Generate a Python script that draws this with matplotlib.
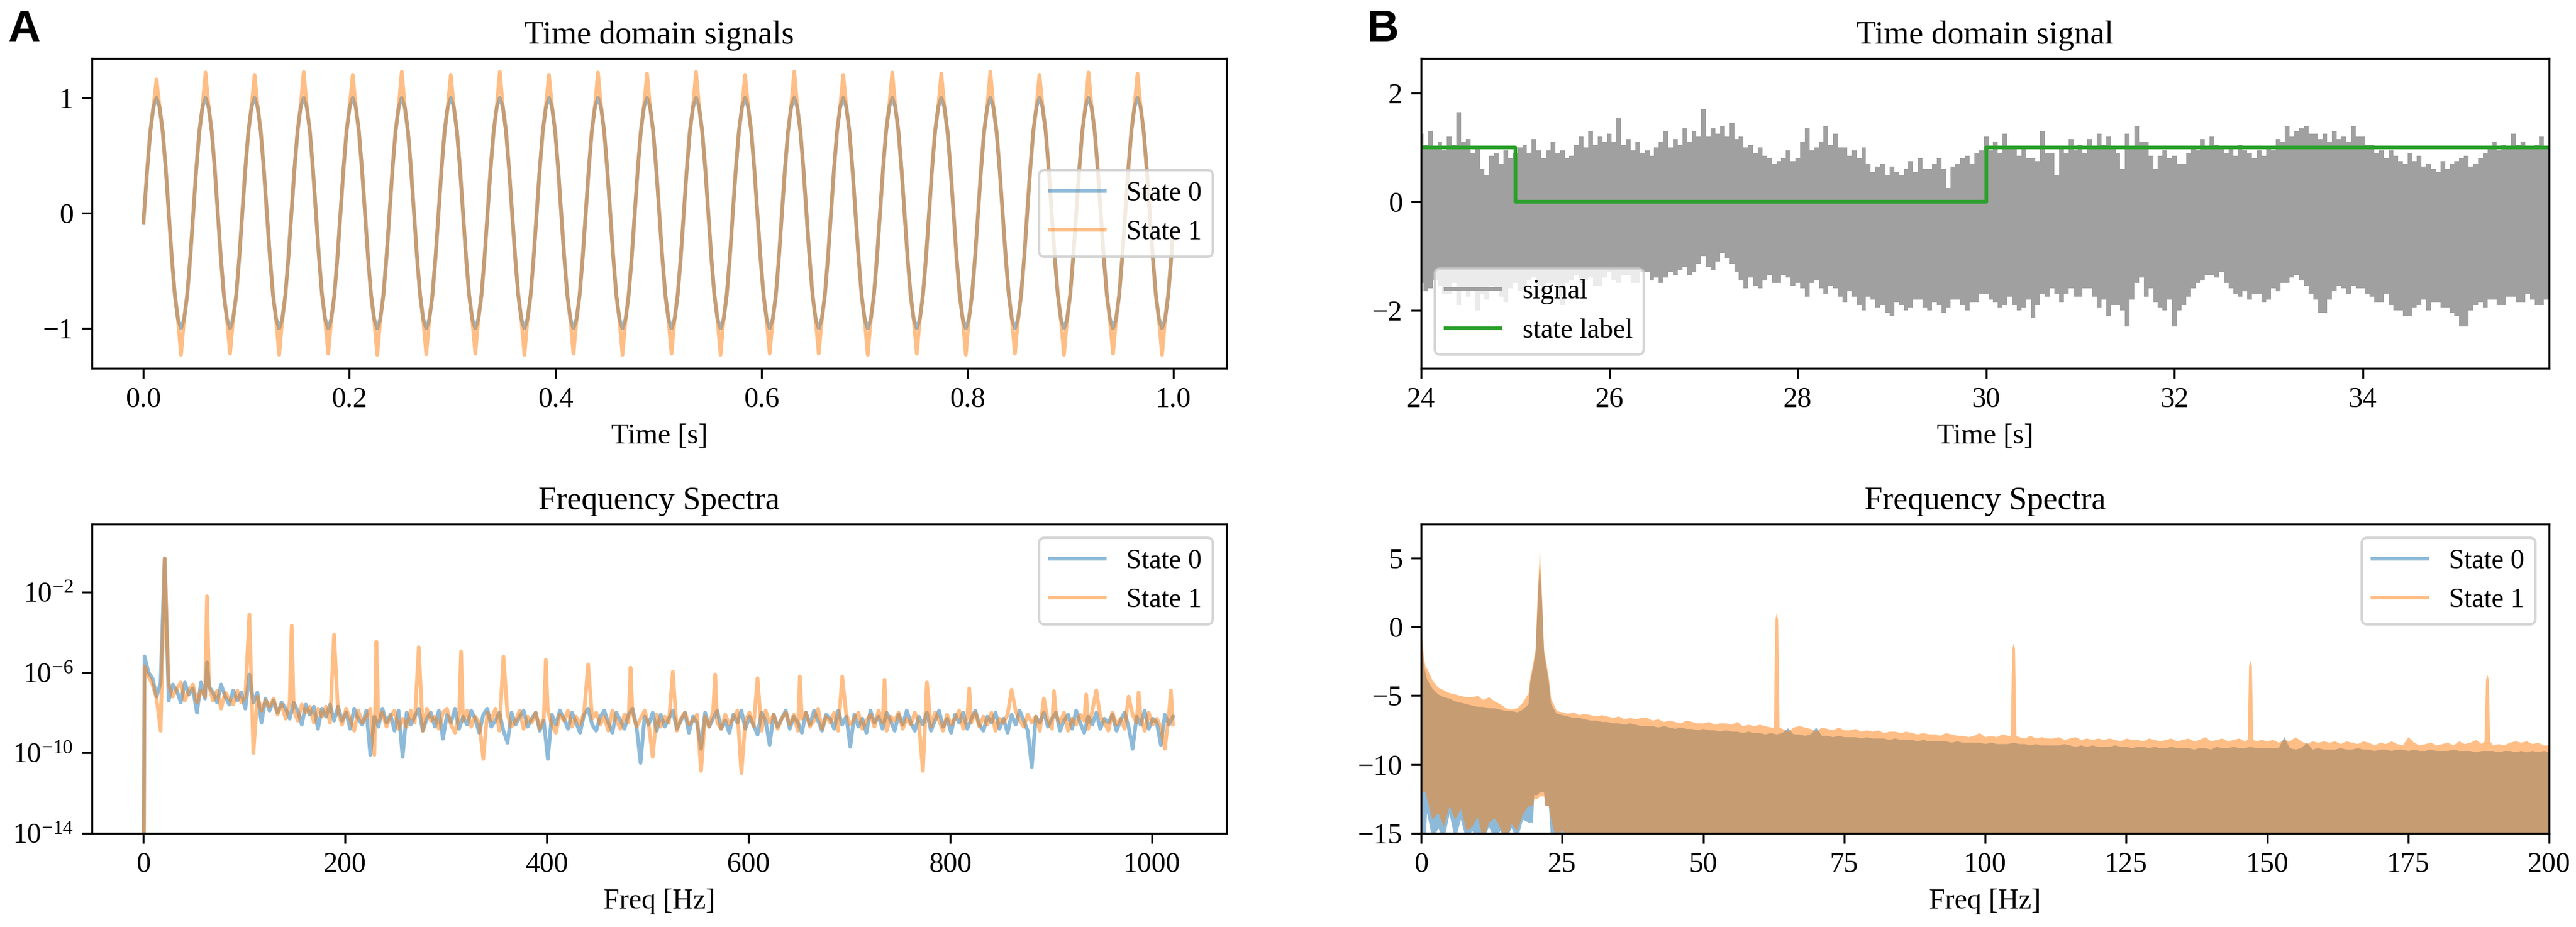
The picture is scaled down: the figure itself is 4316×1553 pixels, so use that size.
import numpy as np
import matplotlib
matplotlib.use("Agg")
import matplotlib.pyplot as plt
from matplotlib.lines import Line2D
from matplotlib.ticker import FixedLocator, NullLocator, LogFormatterMathtext

plt.rcParams['font.family'] = ['Liberation Serif', 'DejaVu Serif']
plt.rcParams['mathtext.fontset'] = 'stix'

# ---------------- DATA ----------------
# Panel A (top): time-domain signals, extremum times [s] and values
a_t_start, a_v_start = 0.0, -0.08
a_t_end, a_v_end = 0.9995, -0.15
a_ext_t = [0.0127, 0.0365, 0.0603, 0.0841, 0.1079, 0.1318, 0.1556, 0.1794, 0.2032, 0.2270,
           0.2508, 0.2746, 0.2984, 0.3222, 0.3460, 0.3699, 0.3937, 0.4175, 0.4413, 0.4651,
           0.4889, 0.5127, 0.5365, 0.5603, 0.5841, 0.6080, 0.6318, 0.6556, 0.6794, 0.7032,
           0.7270, 0.7508, 0.7746, 0.7984, 0.8222, 0.8461, 0.8699, 0.8937, 0.9175, 0.9413,
           0.9651, 0.9889]
a_s0_ext = [1, -1, 1, -1, 1, -1, 1, -1, 1, -1, 1, -1, 1, -1, 1, -1, 1, -1, 1, -1, 1,
            -1, 1, -1, 1, -1, 1, -1, 1, -1, 1, -1, 1, -1, 1, -1, 1, -1, 1, -1, 1, -1]
a_s1_ext = [1.16, -1.23, 1.22, -1.22, 1.20, -1.23, 1.225, -1.22, 1.20, -1.23,
            1.227, -1.225, 1.20, -1.22, 1.227, -1.23, 1.20, -1.22, 1.22, -1.23,
            1.21, -1.22, 1.225, -1.23, 1.20, -1.22, 1.227, -1.22, 1.20, -1.23,
            1.22, -1.22, 1.21, -1.23, 1.225, -1.22, 1.20, -1.23, 1.22, -1.22,
            1.21, -1.23]
# wave profile around each extremum: time offset [s] -> |value|
a_shape_dt = [0.003, 0.006, 0.009]
a_shape_v = [0.92, 0.71, 0.38]

# Panel A (bottom): log10 spectra on a 4 Hz grid (1, 5, 9, ... 1021 Hz) plus DC bin
a_dc_log = -20.0
a_s0_log = [
    -5.2, -6.0, -6.3, -7.2, -6.5, -6.9, -7.4, -6.6, -6.9, -7.5, -6.5, -7.1, -6.8, -8.0, -6.5, -7.3,
    -6.7, -7.0, -7.5, -6.6, -7.2, -7.6, -6.9, -7.4, -7.0, -7.8, -7.2, -7.5, -7.0, -8.5, -7.3, -7.9,
    -7.4, -8.0, -7.5, -7.8, -8.3, -7.5, -7.9, -8.6, -7.6, -8.1, -7.7, -8.8, -7.8, -8.2, -7.6, -8.4,
    -7.7, -8.4, -8.0, -8.8, -7.8, -8.3, -8.6, -7.9, -10.1, -8.2, -8.7, -7.8, -8.5, -8.1, -8.9, -7.9,
    -10.2, -8.0, -8.6, -8.2, -7.8, -8.9, -8.3, -8.0, -8.7, -7.9, -9.3, -8.1, -8.5, -7.8, -8.8, -8.2,
    -8.6, -7.9, -8.3, -9.0, -8.1, -7.8, -8.7, -8.4, -8.0, -8.9, -9.5, -8.0, -8.6, -8.2, -7.9, -8.7,
    -8.3, -8.0, -8.9, -8.4, -10.3, -8.1, -8.6, -7.9, -8.3, -8.8, -8.0, -8.5, -9.0, -8.1, -7.8, -8.6,
    -8.9, -8.2, -7.9, -8.5, -9.0, -8.0, -8.4, -8.8, -8.1, -7.8, -8.7, -10.5, -8.2, -8.6, -8.0, -8.9,
    -8.1, -8.7, -8.3, -7.9, -8.8, -8.4, -8.0, -9.0, -8.2, -8.5, -9.8, -8.0, -8.7, -8.3, -7.9, -8.8,
    -8.4, -9.0, -8.1, -8.5, -7.9, -8.8, -8.2, -8.6, -9.1, -8.0, -8.4, -9.6, -8.1, -8.7, -8.3, -7.9,
    -8.8, -8.2, -8.5, -9.0, -8.0, -8.6, -7.9, -8.4, -8.9, -8.1, -8.3, -8.8, -7.9, -8.6, -8.2, -9.7,
    -8.1, -8.7, -8.3, -9.0, -7.9, -8.5, -8.2, -8.8, -8.0, -8.4, -8.9, -8.1, -8.6, -7.9, -8.5, -8.9,
    -8.2, -8.6, -8.0, -8.9, -8.4, -7.9, -8.7, -8.3, -9.0, -8.1, -8.5, -8.0, -8.8, -8.3, -7.9, -8.6,
    -8.9, -8.2, -8.5, -8.0, -8.8, -8.3, -9.0, -8.1, -8.6, -7.9, -8.4, -8.9, -10.7, -8.2, -8.5, -8.0,
    -8.7, -8.3, -8.0, -8.9, -8.4, -8.1, -8.8, -7.9, -8.5, -9.0, -8.2, -8.6, -8.0, -8.8, -8.3, -8.5,
    -8.1, -8.9, -8.4, -8.0, -8.7, -9.8, -8.2, -8.6, -7.9, -8.8, -8.3, -8.5, -9.6, -8.1, -8.6, -8.2]
a_s1_log = [
    -5.7, -6.2, -6.6, -7.3, -8.9, -6.6, -6.6, -7.2, -6.8, -6.5, -7.4, -6.9, -6.6, -7.5, -6.9, -7.2,
    -6.7, -7.4, -6.9, -7.8, -7.0, -7.3, -7.6, -6.9, -7.5, -7.2, -7.0, -10.0, -7.2, -7.9, -7.4, -7.7,
    -7.3, -8.1, -7.6, -8.3, -7.5, -7.9, -8.4, -7.6, -8.0, -7.7, -8.5, -7.8, -8.2, -7.7, -8.5, -8.0,
    -8.0, -8.6, -7.8, -8.3, -8.9, -7.9, -8.5, -8.2, -7.8, -10.1, -8.4, -8.0, -8.7, -8.2, -7.9, -8.8,
    -8.3, -8.7, -7.9, -8.5, -8.1, -8.9, -7.8, -8.4, -8.2, -8.8, -8.0, -7.8, -8.6, -9.0, -8.1, -8.4,
    -7.9, -8.7, -8.2, -8.5, -10.3, -8.0, -8.4, -7.8, -8.9, -8.3, -8.1, -8.7, -8.4, -7.9, -8.8, -8.2,
    -8.5, -8.0, -8.8, -8.3, -7.9, -8.6, -9.0, -8.1, -8.4, -7.9, -8.7, -8.2, -8.6, -8.0, -9.0, -8.3,
    -8.0, -8.6, -8.2, -8.9, -7.9, -8.4, -8.8, -8.1, -8.5, -8.0, -8.7, -8.3, -7.9, -8.6, -10.2, -8.1,
    -8.7, -8.2, -8.5, -7.9, -8.9, -8.3, -8.0, -8.6, -8.4, -8.1, -10.9, -8.2, -8.7, -7.9, -8.5, -8.8,
    -8.1, -8.6, -8.3, -7.9, -11.0, -8.4, -8.0, -8.7, -8.2, -8.9, -7.9, -8.5, -8.1, -8.8, -8.3, -8.0,
    -8.6, -8.1, -8.9, -8.3, -8.0, -8.7, -8.4, -7.8, -8.8, -8.2, -8.5, -8.0, -8.9, -8.3, -8.1, -8.6,
    -8.3, -8.0, -8.8, -8.4, -8.1, -8.7, -7.9, -8.5, -8.9, -8.2, -8.4, -8.0, -8.8, -8.3, -8.6, -8.0,
    -8.5, -10.9, -8.2, -8.7, -8.0, -8.4, -8.9, -8.1, -8.6, -8.3, -7.9, -8.8, -8.2, -8.5, -8.0, -8.7,
    -8.2, -8.6, -8.0, -8.9, -8.3, -8.5, -8.1, -8.8, -7.9, -8.4, -8.7, -8.1, -8.5, -8.2, -8.9, -8.0,
    -8.4, -8.8, -8.1, -8.5, -8.0, -8.9, -8.3, -8.6, -8.1, -8.4, -8.8, -7.9, -8.6, -8.2, -8.5, -8.9,
    -8.0, -8.6, -8.3, -8.8, -10.0, -8.1, -8.5, -8.2, -8.9, -8.0, -8.6, -8.3, -8.7, -9.8, -8.1, -8.6]
# peaks (Hz, log10)
a_s0_peak_f = [21, 63, 105]
a_s0_peak_v = [-0.33, -5.5, -6.1]
a_s1_peak_f = [21, 63, 105, 147, 189, 231, 273, 315, 357, 399, 441, 483, 525, 567, 609,
               651, 693, 735, 777, 819, 861, 893, 903, 935, 945, 977, 987, 1019]
a_s1_peak_v = [-0.33, -2.21, -3.11, -3.67, -4.11, -4.47, -4.74, -4.96, -5.21, -5.37, -5.6,
               -5.76, -5.96, -6.1, -6.29, -6.2, -6.21, -6.36, -6.5, -6.79, -6.86, -7.3,
               -6.93, -7.1, -6.89, -7.2, -7.0, -6.9]

# Panel B (top): signal envelope every 0.05 s from 24.0 to 36.0 s, and state label
b_sig_t0, b_sig_dt = 24.0, 0.05
b_sig_upper = [
    1.25, 1.05, 1.3, 1.0, 1.1, 0.95, 1.2, 1.05, 1.65, 1.1,
    1.15, 0.9, 1.0, 0.6, 0.5, 0.85, 0.9, 0.7, 0.95, 0.8,
    0.9, 1.0, 1.05, 0.9, 1.15, 0.95, 0.8, 0.95, 1.1, 0.9,
    0.95, 0.8, 0.85, 1.05, 1.2, 1.0, 1.3, 1.05, 1.2, 1.1,
    1.25, 1.1, 1.55, 1.05, 1.15, 0.95, 1.1, 0.9, 0.95, 0.85,
    1.0, 1.1, 1.3, 1.0, 1.15, 1.05, 1.35, 1.1, 1.3, 1.2,
    1.7, 1.2, 1.35, 1.25, 1.4, 1.2, 1.45, 1.15, 1.2, 1.0,
    1.05, 0.9, 1.0, 0.85, 0.8, 0.7, 0.75, 0.8, 0.95, 0.75,
    0.8, 1.1, 1.35, 0.95, 1.0, 1.1, 1.4, 1.05, 1.25, 1.0,
    1.0, 0.85, 0.95, 0.8, 1.0, 0.7, 0.55, 0.65, 0.7, 0.5,
    0.65, 0.55, 0.5, 0.6, 0.75, 0.55, 0.8, 0.6, 0.6, 0.7,
    0.8, 0.6, 0.25, 0.65, 0.7, 0.8, 0.85, 0.7, 0.9, 0.95,
    1.2, 0.95, 1.1, 0.9, 1.25, 1.0, 1.0, 0.85, 1.0, 0.8,
    0.8, 0.75, 1.3, 0.9, 0.9, 0.5, 1.0, 0.9, 1.15, 0.95,
    1.05, 0.9, 1.15, 1.0, 1.25, 1.05, 1.2, 1.0, 0.9, 0.6,
    1.25, 1.0, 1.4, 1.1, 1.1, 0.85, 0.6, 0.85, 0.95, 0.8,
    0.85, 0.7, 0.7, 0.9, 1.0, 0.95, 1.15, 1.0, 1.2, 1.05,
    1.0, 0.9, 1.0, 0.85, 1.05, 0.95, 0.9, 0.8, 0.95, 0.85,
    1.0, 0.95, 1.15, 1.1, 1.4, 1.2, 1.3, 1.35, 1.4, 1.25,
    1.25, 1.15, 1.25, 1.1, 1.3, 1.15, 1.2, 1.1, 1.4, 1.2,
    1.2, 1.05, 1.05, 0.9, 0.95, 0.8, 0.95, 0.85, 0.75, 0.7,
    0.9, 0.75, 0.85, 0.65, 0.7, 0.6, 0.55, 0.75, 0.6, 0.7,
    0.75, 0.8, 0.85, 0.65, 0.7, 0.8, 0.9, 1.0, 1.1, 0.95,
    1.05, 1.0, 1.25, 1.05, 1.1, 1.0, 1.0, 1.05, 1.2, 1.0,
    0.8]
b_sig_lower = [
    -1.5, -1.65, -1.6, -1.45, -1.55, -1.7, -1.7, -1.5, -1.9, -1.65,
    -1.75, -1.6, -2.0, -1.7, -1.8, -1.55, -1.6, -1.75, -1.85, -1.6,
    -1.5, -1.65, -1.6, -1.45, -1.4, -1.55, -1.7, -1.5, -1.5, -1.75,
    -1.9, -1.5, -1.45, -1.35, -1.5, -1.45, -1.4, -1.55, -1.55, -1.4,
    -1.3, -1.45, -1.5, -1.35, -1.35, -1.5, -1.5, -1.3, -1.3, -1.45,
    -1.4, -1.5, -1.4, -1.3, -1.35, -1.25, -1.2, -1.35, -1.3, -1.15,
    -1.0, -1.2, -1.25, -1.1, -0.95, -1.05, -1.15, -1.3, -1.45, -1.6,
    -1.4, -1.55, -1.6, -1.45, -1.35, -1.5, -1.5, -1.35, -1.4, -1.55,
    -1.5, -1.6, -1.75, -1.5, -1.45, -1.6, -1.7, -1.55, -1.6, -1.75,
    -1.85, -1.65, -1.75, -1.9, -2.0, -1.75, -1.8, -1.95, -1.9, -2.05,
    -2.1, -1.85, -1.9, -2.0, -1.95, -1.8, -1.8, -1.95, -2.0, -1.85,
    -1.9, -2.05, -1.95, -1.8, -1.8, -1.9, -2.0, -1.85, -1.85, -1.7,
    -1.7, -1.8, -1.85, -1.95, -1.9, -1.75, -1.9, -2.0, -1.95, -1.8,
    -2.15, -1.9, -1.7, -1.75, -1.6, -1.7, -1.85, -1.7, -1.6, -1.75,
    -1.75, -1.6, -1.6, -1.75, -1.95, -1.8, -2.1, -1.9, -1.9, -2.0,
    -2.3, -1.8, -1.5, -1.4, -1.75, -1.6, -1.85, -1.95, -2.0, -1.8,
    -2.3, -2.0, -1.9, -1.75, -1.6, -1.5, -1.45, -1.35, -1.35, -1.4,
    -1.3, -1.5, -1.6, -1.7, -1.75, -1.65, -1.8, -1.7, -1.7, -1.85,
    -1.8, -1.6, -1.65, -1.5, -1.5, -1.4, -1.35, -1.45, -1.55, -1.7,
    -1.8, -2.05, -2.05, -1.8, -1.65, -1.55, -1.6, -1.7, -1.55, -1.6,
    -1.6, -1.7, -1.75, -1.85, -1.85, -1.7, -1.9, -2.0, -2.0, -2.1,
    -2.1, -1.95, -1.9, -1.8, -2.0, -1.85, -1.85, -1.95, -1.95, -2.05,
    -2.1, -2.3, -2.3, -2.0, -1.9, -1.85, -1.95, -1.8, -1.8, -1.9,
    -1.9, -1.75, -1.75, -1.85, -1.85, -1.7, -1.8, -1.9, -1.9, -1.8,
    -1.7]
b_state_t = [23.5, 25.0, 30.0, 36.5]
b_state_v = [1, 0, 1, 1]

# Panel B (bottom): spectrum top envelopes at integer Hz 1..200
b_s0_top = [
    -3.8, -4.5, -4.9, -5.1, -5.2, -5.4, -5.5, -5.6, -5.7, -5.8,
    -5.8, -5.9, -5.9, -6.0, -6.1, -6.1, -6.2, -6.0, -5.6, -2.5,
    4.5, -2.5, -5.6, -6.3, -6.4, -6.5, -6.6, -6.6, -6.7, -6.8,
    -6.8, -6.9, -6.9, -7.0, -7.0, -7.1, -7.0, -7.1, -7.2, -7.2,
    -7.2, -7.3, -7.2, -7.3, -7.4, -7.3, -7.4, -7.4, -7.5, -7.4,
    -7.5, -7.5, -7.6, -7.5, -7.6, -7.6, -7.7, -7.6, -7.7, -7.7,
    -7.8, -7.7, -7.8, -7.7, -7.35, -7.8, -7.8, -7.9, -7.8, -7.3,
    -7.9, -7.9, -8.0, -7.9, -8.0, -8.0, -8.0, -8.1, -8.0, -8.1,
    -8.1, -8.1, -8.2, -8.1, -8.2, -8.2, -8.2, -8.3, -8.2, -8.3,
    -8.3, -8.3, -8.3, -8.4, -8.3, -8.4, -8.4, -8.4, -8.4, -8.5,
    -8.4, -8.5, -8.5, -8.5, -8.4, -8.5, -8.5, -8.6, -8.5, -8.6,
    -8.6, -8.6, -8.6, -8.5, -8.6, -8.7, -8.6, -8.7, -8.6, -8.7,
    -8.7, -8.7, -8.6, -8.7, -8.7, -8.8, -8.7, -8.7, -8.8, -8.7,
    -8.8, -8.8, -8.7, -8.8, -8.8, -8.8, -8.9, -8.8, -8.8, -8.9,
    -8.7, -8.8, -8.8, -8.7, -8.8, -8.8, -8.7, -8.8, -8.8, -8.8,
    -8.8, -8.8, -8.0, -8.8, -8.9, -8.8, -8.4, -8.9, -8.8, -8.9,
    -8.9, -8.9, -8.8, -8.9, -8.9, -8.8, -8.9, -8.9, -9.0, -8.9,
    -8.9, -9.0, -8.9, -8.9, -9.0, -8.9, -9.0, -9.0, -8.9, -9.0,
    -9.0, -9.0, -8.9, -9.0, -9.0, -9.0, -9.1, -9.0, -9.0, -9.0,
    -9.1, -9.0, -9.0, -9.1, -9.0, -9.1, -9.0, -9.1, -9.0, -9.1]
b_s1_top = [
    -3.0, -3.9, -4.4, -4.6, -4.8, -4.9, -5.0, -5.1, -5.1, -5.0,
    -5.3, -5.1, -5.4, -5.6, -5.9, -6.0, -5.9, -5.5, -4.8, -2.2,
    5.5, -2.2, -5.2, -6.1, -6.2, -6.3, -6.2, -6.4, -6.3, -6.4,
    -6.5, -6.4, -6.5, -6.6, -6.5, -6.7, -6.6, -6.7, -6.6, -6.6,
    -6.8, -6.7, -6.9, -6.8, -6.9, -7.0, -6.8, -6.9, -7.0, -7.0,
    -6.9, -7.1, -7.0, -7.0, -7.1, -6.9, -7.2, -7.1, -7.2, -7.1,
    -7.2, -7.3, -7.2, -7.4, -7.6, -7.3, -7.2, -7.3, -7.4, -7.6,
    -7.3, -7.4, -7.5, -7.3, -7.5, -7.5, -7.4, -7.6, -7.5, -7.6,
    -7.5, -7.7, -7.6, -7.6, -7.7, -7.6, -7.7, -7.8, -7.7, -7.8,
    -7.8, -7.9, -7.7, -7.8, -7.9, -7.9, -8.0, -7.9, -7.7, -8.0,
    -7.9, -8.0, -7.8, -7.9, -8.0, -8.0, -8.1, -7.9, -8.1, -8.0,
    -8.1, -8.1, -8.0, -8.2, -8.1, -8.0, -8.2, -8.1, -8.2, -8.1,
    -8.2, -8.1, -8.2, -8.3, -8.1, -8.2, -8.2, -8.3, -8.1, -8.2,
    -8.3, -8.2, -8.1, -8.3, -8.2, -8.1, -8.3, -8.2, -8.0, -8.3,
    -8.2, -8.1, -8.3, -8.2, -8.1, -8.3, -8.2, -8.3, -8.2, -8.3,
    -8.2, -8.4, -8.2, -8.3, -8.0, -8.3, -8.5, -8.3, -8.4, -8.3,
    -8.4, -8.3, -8.5, -8.3, -8.4, -8.5, -8.3, -8.4, -8.6, -8.4,
    -8.5, -8.3, -8.5, -8.6, -8.0, -8.4, -8.6, -8.5, -8.4, -8.6,
    -8.5, -8.4, -8.6, -8.3, -8.5, -8.4, -8.2, -8.5, -8.3, -8.6,
    -8.5, -8.6, -8.4, -8.3, -8.4, -8.3, -8.5, -8.4, -8.6, -8.6]
# extra detail points (Hz, value): low-frequency decay, 21 Hz peak and harmonics
b_s0_detail_f = [0.0, 0.2, 0.5, 0.75, 19.3, 19.8, 20.25, 20.63, 21.37, 21.75, 22.2, 22.6]
b_s0_detail_v = [0.6, -1.5, -2.9, -3.4, -4.0, -3.0, -1.9, 2.0, 2.0, -1.9, -3.0, -4.0]
b_s1_detail_f = [0.0, 0.2, 0.5, 0.75, 19.3, 19.8, 20.25, 20.63, 21.37, 21.75, 22.2, 22.6,
                 62.5, 62.75, 63.0, 63.25, 63.5, 104.5, 104.75, 105.0, 105.25, 105.5,
                 146.5, 146.75, 147.0, 147.25, 147.5, 188.5, 188.75, 189.0, 189.25, 189.5]
b_s1_detail_v = [0.9, -1.0, -2.4, -2.9, -3.7, -2.7, -1.6, 2.5, 2.5, -1.6, -2.7, -3.7,
                 -7.3, 0.5, 1.0, 0.5, -7.3, -7.9, -1.6, -1.2, -1.6, -7.9,
                 -8.2, -2.85, -2.45, -2.85, -8.2, -8.3, -3.85, -3.45, -3.85, -8.3]
# lower envelopes for 0..26 Hz (beyond that the trace runs below -15)
b_s0_low = [-15.5, -13.5, -15.5, -14.6, -15.5, -13.6, -15.5, -14.0, -15.5, -14.8,
            -15.5, -15.5, -14.5, -15.5, -14.8, -15.5, -14.6, -15.5, -14.0, -14.2,
            -12.2, -12.0, -13.0, -15.5, -15.5, -15.5, -15.5]
b_s1_low = [-12.0, -12.5, -14.0, -13.5, -14.5, -13.0, -14.0, -13.2, -14.8, -14.5,
            -13.8, -15.5, -14.2, -13.9, -14.6, -15.5, -14.3, -14.8, -13.6, -13.0,
            -12.5, -12.3, -13.0, -14.0, -15.5, -14.7, -15.5]
b_low_default = -16.0

# ---------------- HELPERS ----------------
def merged(base_f, base_v, extra_f, extra_v):
    d = dict(zip([float(x) for x in base_f], base_v))
    d.update(zip([float(x) for x in extra_f], extra_v))
    f = np.array(sorted(d))
    return f, np.array([d[k] for k in f])

def lower_lookup(f, low):
    out = np.full(len(f), b_low_default)
    for i, x in enumerate(f):
        k = int(np.floor(x))
        if k < len(low):
            out[i] = low[k]
    return out

def wave(ext_t, ext_v):
    t, v = [a_t_start], [a_v_start]
    for tk, vk in zip(ext_t, ext_v):
        s = np.sign(vk)
        for dt, sv in zip(a_shape_dt[::-1], a_shape_v[::-1]):
            t.append(tk - dt); v.append(s * sv)
        t.append(tk); v.append(vk)
        for dt, sv in zip(a_shape_dt, a_shape_v):
            t.append(tk + dt); v.append(s * sv)
    t.append(a_t_end); v.append(a_v_end)
    return t, v

C0 = 'tab:blue'
C1 = 'tab:orange'
AL = 0.5

W, H = 4316, 1553
fig = plt.figure(figsize=(W / 300, H / 300), dpi=300)

TICK = 11.5
LAB = 11.5
TIT = 13
LEG = 11

def ax_at(x0, x1, ytop, ybot):
    return fig.add_axes([x0 / W, 1 - ybot / H, (x1 - x0) / W, (ybot - ytop) / H])

axA1 = ax_at(154, 2055, 98, 617)
axB1 = ax_at(2381, 4271, 98, 617)
axA2 = ax_at(154, 2055, 878, 1396)
axB2 = ax_at(2381, 4271, 878, 1396)

for ax in (axA1, axB1, axA2, axB2):
    ax.tick_params(labelsize=TICK, length=4)

# ---- Panel A top ----
t0, v0 = wave(a_ext_t, a_s0_ext)
t1, v1 = wave(a_ext_t, a_s1_ext)
axA1.plot(t0, v0, color=C0, alpha=AL, lw=1.5, label='State 0')
axA1.plot(t1, v1, color=C1, alpha=AL, lw=1.5, label='State 1')
axA1.set_xlim(-0.05, 1.0515)
axA1.set_ylim(-1.347, 1.342)
axA1.set_yticks([-1, 0, 1])
axA1.set_xticks([0.0, 0.2, 0.4, 0.6, 0.8, 1.0])
axA1.set_title('Time domain signals', fontsize=TIT)
axA1.set_xlabel('Time [s]', fontsize=LAB)
axA1.legend(loc='center right', fontsize=LEG)

# ---- Panel A bottom ----
grid = [0] + list(range(1, 1024, 4))
f0, l0 = merged(grid, [a_dc_log] + a_s0_log, a_s0_peak_f, a_s0_peak_v)
f1, l1 = merged(grid, [a_dc_log] + a_s1_log, a_s1_peak_f, a_s1_peak_v)
axA2.plot(f0, 10.0 ** l0, color=C0, alpha=AL, lw=1.5, label='State 0')
axA2.plot(f1, 10.0 ** l1, color=C1, alpha=AL, lw=1.5, label='State 1')
axA2.set_yscale('log')
axA2.set_ylim(1e-14, 10 ** 1.38)
axA2.set_xlim(-51.15, 1074.15)
axA2.yaxis.set_major_locator(FixedLocator([1e-14, 1e-10, 1e-6, 1e-2]))
axA2.yaxis.set_major_formatter(LogFormatterMathtext())
axA2.yaxis.set_minor_locator(NullLocator())
axA2.set_xticks([0, 200, 400, 600, 800, 1000])
axA2.set_title('Frequency Spectra', fontsize=TIT)
axA2.set_xlabel('Freq [Hz]', fontsize=LAB)
axA2.legend(loc='upper right', fontsize=LEG)

# ---- Panel B top ----
bt = b_sig_t0 + b_sig_dt * np.arange(len(b_sig_upper))
SIG = '#a0a0a0'
axB1.fill_between(bt, b_sig_lower, b_sig_upper, step='mid', color=SIG, lw=0)
axB1.plot(b_state_t, b_state_v, drawstyle='steps-post', color='tab:green', lw=1.5)
axB1.set_xlim(24, 35.98)
axB1.set_ylim(-3.07, 2.64)
axB1.set_xticks([24, 26, 28, 30, 32, 34])
axB1.set_yticks([-2, 0, 2])
axB1.set_title('Time domain signal', fontsize=TIT)
axB1.set_xlabel('Time [s]', fontsize=LAB)
hB1 = [Line2D([], [], color=SIG, lw=1.5), Line2D([], [], color='tab:green', lw=1.5)]
axB1.legend(hB1, ['signal', 'state label'], loc='lower left', fontsize=LEG)

# ---- Panel B bottom ----
ig = list(range(1, 201))
g0, s0top = merged(ig, b_s0_top, b_s0_detail_f, b_s0_detail_v)
g1, s1top = merged(ig, b_s1_top, b_s1_detail_f, b_s1_detail_v)
axB2.fill_between(g0, lower_lookup(g0, b_s0_low), s0top, color=C0, alpha=AL, lw=0)
axB2.fill_between(g1, lower_lookup(g1, b_s1_low), s1top, color=C1, alpha=AL, lw=0)
axB2.set_xlim(0, 200)
axB2.set_ylim(-15, 7.45)
axB2.set_xticks([0, 25, 50, 75, 100, 125, 150, 175, 200])
axB2.set_yticks([-15, -10, -5, 0, 5])
axB2.set_title('Frequency Spectra', fontsize=TIT)
axB2.set_xlabel('Freq [Hz]', fontsize=LAB)
hB2 = [Line2D([], [], color=C0, alpha=AL, lw=1.5), Line2D([], [], color=C1, alpha=AL, lw=1.5)]
axB2.legend(hB2, ['State 0', 'State 1'], loc='upper right', fontsize=LEG)

# panel letters
fig.text(13 / W, 1 - 69 / H, 'A', fontsize=18, fontweight='bold',
         family=['Liberation Sans', 'DejaVu Sans'], ha='left', va='baseline')
fig.text(2290 / W, 1 - 69 / H, 'B', fontsize=18, fontweight='bold',
         family=['Liberation Sans', 'DejaVu Sans'], ha='left', va='baseline')

fig.savefig('out.png', dpi=300)
